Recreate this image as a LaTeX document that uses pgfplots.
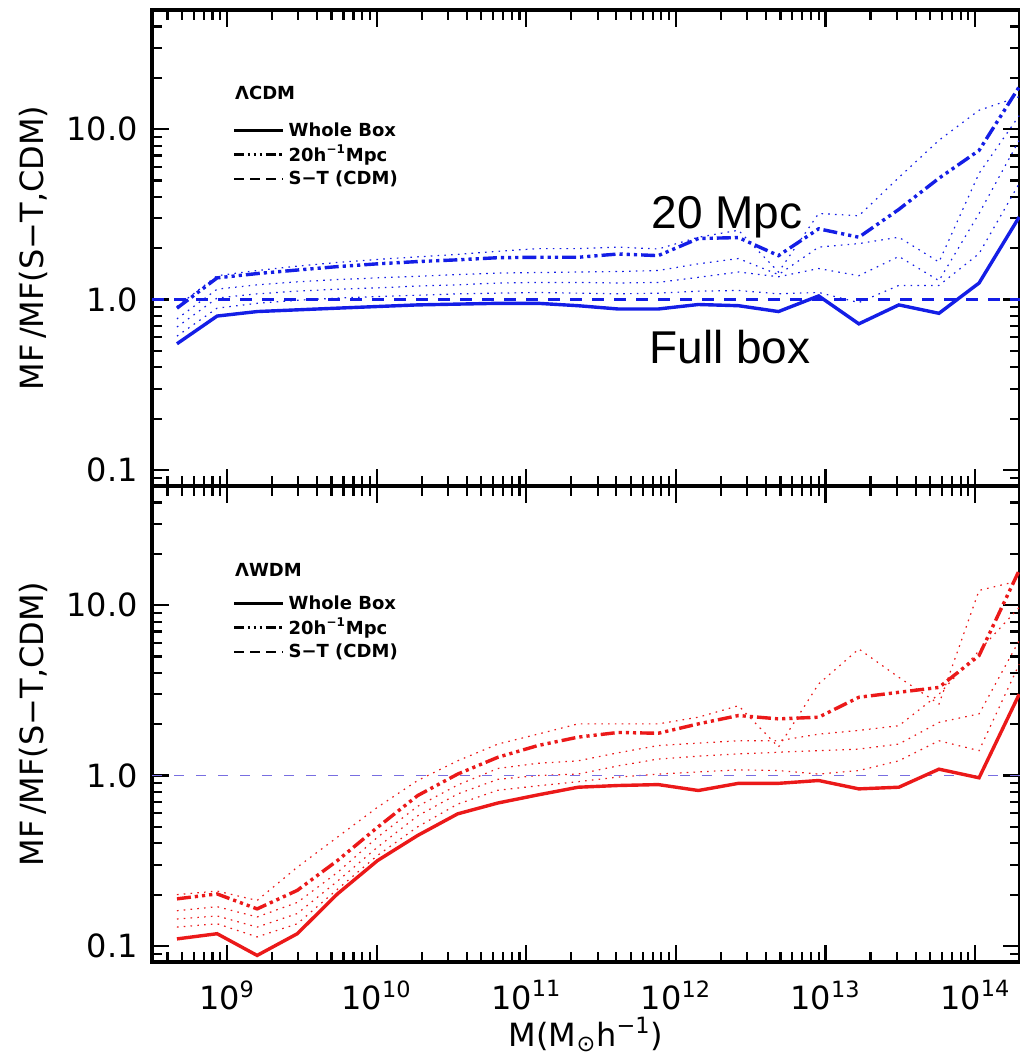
\documentclass[border=0pt]{standalone}
\usepackage{fontspec}
\setmainfont{DejaVu Sans}
\newfontfamily\arialfont{Liberation Sans}
\usepackage{pgfplots}
\usepackage{pgfplotstable}
\pgfplotsset{compat=1.18}

\definecolor{cblue}{RGB}{20,30,230}
\definecolor{cred}{RGB}{235,25,25}
\definecolor{stblue}{RGB}{120,110,225}
\newcommand\legfont{\fontsize{9}{9}\selectfont\bfseries}
\newcommand\tickfont{\fontsize{16}{16}\selectfont}

\pgfplotstableread{
M s dd d1 d2 d3 d4
4.63e8 0.55 0.89 0.91 0.77 0.69 0.61
8.59e8 0.80 1.34 1.38 1.15 1.02 0.89
1.59e9 0.85 1.42 1.48 1.22 1.08 0.95
2.95e9 0.87 1.49 1.57 1.27 1.12 0.99
5.47e9 0.89 1.56 1.65 1.31 1.15 1.02
1.014e10 0.91 1.62 1.72 1.34 1.17 1.04
1.88e10 0.93 1.67 1.78 1.37 1.20 1.06
3.48e10 0.94 1.71 1.84 1.40 1.22 1.08
6.46e10 0.95 1.76 1.92 1.43 1.25 1.09
1.197e11 0.95 1.77 1.99 1.44 1.26 1.10
2.22e11 0.92 1.77 1.99 1.45 1.26 1.09
4.11e11 0.88 1.85 2.03 1.46 1.25 1.08
7.62e11 0.88 1.81 1.98 1.48 1.26 1.09
1.413e12 0.935 2.28 2.32 1.62 1.35 1.12
2.62e12 0.92 2.31 2.55 1.74 1.45 1.13
4.85e12 0.85 1.81 1.45 1.40 1.36 1.08
9.00e12 1.05 2.60 3.20 2.03 1.52 1.10
1.67e13 0.72 2.32 3.10 2.13 1.38 0.96
3.09e13 0.93 3.38 5.20 2.32 1.79 1.21
5.73e13 0.83 5.15 8.60 1.66 1.29 1.21
1.062e14 1.25 7.50 12.9 5.50 3.20 1.86
1.97e14 3.05 17.7 15.5 12.0 8.60 4.80
}\cdm

\pgfplotstableread{
M s dd d1 d2 d3 d4
4.63e8 0.110 0.189 0.20 0.161 0.144 0.129
8.59e8 0.118 0.202 0.21 0.170 0.150 0.135
1.59e9 0.088 0.165 0.185 0.148 0.129 0.113
2.95e9 0.118 0.212 0.29 0.18 0.155 0.135
5.47e9 0.202 0.317 0.435 0.27 0.24 0.215
1.014e10 0.317 0.497 0.652 0.435 0.38 0.34
1.88e10 0.445 0.763 0.935 0.66 0.58 0.50
3.48e10 0.596 1.02 1.22 0.88 0.78 0.68
6.46e10 0.69 1.28 1.53 1.10 0.95 0.82
1.197e11 0.77 1.50 1.75 1.18 1.00 0.87
2.22e11 0.854 1.68 2.01 1.22 1.02 0.92
4.11e11 0.874 1.79 2.01 1.36 1.14 0.98
7.62e11 0.885 1.77 2.01 1.50 1.25 1.02
1.413e12 0.817 2.01 2.20 1.55 1.30 1.05
2.62e12 0.90 2.25 2.57 1.60 1.34 1.08
4.85e12 0.90 2.15 1.47 1.60 1.37 1.07
9.00e12 0.935 2.20 3.45 1.75 1.40 1.02
1.67e13 0.835 2.88 5.53 1.84 1.43 1.07
3.09e13 0.854 3.08 3.77 1.96 1.53 1.22
5.73e13 1.09 3.29 2.63 3.00 2.05 1.60
1.062e14 0.97 5.06 12.2 5.40 2.30 1.40
1.97e14 3.00 16.0 13.9 9.70 6.20 4.50
}\wdm

\tikzset{
  dotl/.style={line width=0.6pt, dash pattern=on 0.8pt off 2.6pt},
  ddd/.style={line width=1.7pt, line cap=butt, dash pattern=on 7pt off 2pt on 1.6pt off 2pt on 1.6pt off 2pt on 1.6pt off 2pt},
  lddd/.style={line width=1.3pt, line cap=butt, dash pattern=on 5pt off 1.8pt on 1.2pt off 1.8pt on 1.2pt off 1.8pt on 1.2pt off 1.8pt},
}

\begin{document}
\begin{tikzpicture}
\begin{axis}[name=top, at={(0,0)}, anchor=south west,
    scale only axis, width=434pt, height=238pt,
    xmode=log, ymode=log,
    xmin=3.154e8, xmax=1.995e14, ymin=0.0805, ymax=50,
    xtick={1e9,1e10,1e11,1e12,1e13,1e14}, xticklabels={},
    minor xtick={4e8,5e8,6e8,7e8,8e8,9e8,
      2e9,3e9,4e9,5e9,6e9,7e9,8e9,9e9,
      2e10,3e10,4e10,5e10,6e10,7e10,8e10,9e10,
      2e11,3e11,4e11,5e11,6e11,7e11,8e11,9e11,
      2e12,3e12,4e12,5e12,6e12,7e12,8e12,9e12,
      2e13,3e13,4e13,5e13,6e13,7e13,8e13,9e13},
    ytick={0.1,1,10}, yticklabels={0.1,1.0,10.0},
    minor ytick={0.09,0.2,0.3,0.4,0.5,0.6,0.7,0.8,0.9,2,3,4,5,6,7,8,9,20,30,40},
    axis line style={line width=1.6pt, black},
    tick style={line width=1.1pt, black},
    major tick length=8.5pt, minor tick length=5pt,
    tick label style={font=\tickfont},
    yticklabel style={inner sep=0pt, anchor=east, xshift=-7pt},
    ylabel={MF\,/MF(S−T,CDM)},
    ylabel style={at={(axis description cs:-0.1371,0.5)}, anchor=center, font=\tickfont},
    legend image code/.code={\draw[#1] (0pt,0pt) -- (24.5pt,0pt);},
    legend style={draw=none, fill=none, font=\legfont, at={(axis description cs:0.0853,0.7815)}, anchor=north west, row sep=-1pt},
    legend cell align=left,
  ]
\addlegendimage{black, line width=1.6pt}
\addlegendentry{Whole Box}
\addlegendimage{black, lddd}
\addlegendentry{20h\textsuperscript{−1}Mpc}
\addlegendimage{black, line width=1.1pt, dash pattern=on 5pt off 3pt}
\addlegendentry{S−T (CDM)}
\addplot[cblue, dotl, forget plot] table[x=M, y=d1] {\cdm};
\addplot[cblue, dotl, forget plot] table[x=M, y=d2] {\cdm};
\addplot[cblue, dotl, forget plot] table[x=M, y=d3] {\cdm};
\addplot[cblue, dotl, forget plot] table[x=M, y=d4] {\cdm};
\addplot[cblue, line width=1.1pt, dash pattern=on 6pt off 5pt, forget plot] coordinates {(3.154e8,1) (1.995e14,1)};
\addplot[cblue, ddd, forget plot] table[x=M, y=dd] {\cdm};
\addplot[cblue, line width=1.7pt, forget plot] table[x=M, y=s] {\cdm};
\node[anchor=west, font=\legfont] at (axis description cs:0.0876,0.8256) {ΛCDM};
\node[anchor=base, font=\arialfont\fontsize{23}{23}\selectfont] at (axis cs:2.2e12,2.62) {20 Mpc};
\node[anchor=base, font=\arialfont\fontsize{23}{23}\selectfont] at (axis cs:2.3e12,0.42) {Full box};
\end{axis}

\begin{axis}[name=bot, at={(0,0)}, anchor=north west,
    scale only axis, width=434pt, height=238pt,
    xmode=log, ymode=log,
    xmin=3.154e8, xmax=1.995e14, ymin=0.0805, ymax=50,
    xtick={1e9,1e10,1e11,1e12,1e13,1e14},
    xticklabels={10\textsuperscript{9},10\textsuperscript{10},10\textsuperscript{11},10\textsuperscript{12},10\textsuperscript{13},10\textsuperscript{14}},
    minor xtick={4e8,5e8,6e8,7e8,8e8,9e8,
      2e9,3e9,4e9,5e9,6e9,7e9,8e9,9e9,
      2e10,3e10,4e10,5e10,6e10,7e10,8e10,9e10,
      2e11,3e11,4e11,5e11,6e11,7e11,8e11,9e11,
      2e12,3e12,4e12,5e12,6e12,7e12,8e12,9e12,
      2e13,3e13,4e13,5e13,6e13,7e13,8e13,9e13},
    ytick={0.1,1,10}, yticklabels={0.1,1.0,10.0},
    minor ytick={0.09,0.2,0.3,0.4,0.5,0.6,0.7,0.8,0.9,2,3,4,5,6,7,8,9,20,30,40},
    axis line style={line width=1.6pt, black},
    tick style={line width=1.1pt, black},
    major tick length=8.5pt, minor tick length=5pt,
    tick label style={font=\tickfont},
    yticklabel style={inner sep=0pt, anchor=east, xshift=-7pt},
    xticklabel style={inner sep=0pt, anchor=north, yshift=-9pt},
    ylabel={MF\,/MF(S−T,CDM)},
    ylabel style={at={(axis description cs:-0.1371,0.5)}, anchor=center, font=\tickfont},
    xlabel={M(M\textsubscript{⊙}h\textsuperscript{−1})},
    xlabel style={at={(axis description cs:0.5,-0.1765)}, anchor=base, font=\tickfont},
    legend image code/.code={\draw[#1] (0pt,0pt) -- (24.5pt,0pt);},
    legend style={draw=none, fill=none, font=\legfont, at={(axis description cs:0.0853,0.788)}, anchor=north west, row sep=-1pt},
    legend cell align=left,
  ]
\addlegendimage{black, line width=1.6pt}
\addlegendentry{Whole Box}
\addlegendimage{black, lddd}
\addlegendentry{20h\textsuperscript{−1}Mpc}
\addlegendimage{black, line width=1.1pt, dash pattern=on 5pt off 3pt}
\addlegendentry{S−T (CDM)}
\addplot[cred, dotl, forget plot] table[x=M, y=d1] {\wdm};
\addplot[cred, dotl, forget plot] table[x=M, y=d2] {\wdm};
\addplot[cred, dotl, forget plot] table[x=M, y=d3] {\wdm};
\addplot[cred, dotl, forget plot] table[x=M, y=d4] {\wdm};
\addplot[stblue, line width=0.9pt, dash pattern=on 5pt off 6pt, forget plot] coordinates {(3.154e8,1) (1.995e14,1)};
\addplot[cred, ddd, forget plot] table[x=M, y=dd] {\wdm};
\addplot[cred, line width=1.7pt, forget plot] table[x=M, y=s] {\wdm};
\node[anchor=west, font=\legfont] at (axis description cs:0.0876,0.8235) {ΛWDM};
\end{axis}
\pgfresetboundingbox
\path[use as bounding box] (-76pt,-284.5pt) rectangle (433.5pt,243pt);
\end{tikzpicture}
\end{document}
